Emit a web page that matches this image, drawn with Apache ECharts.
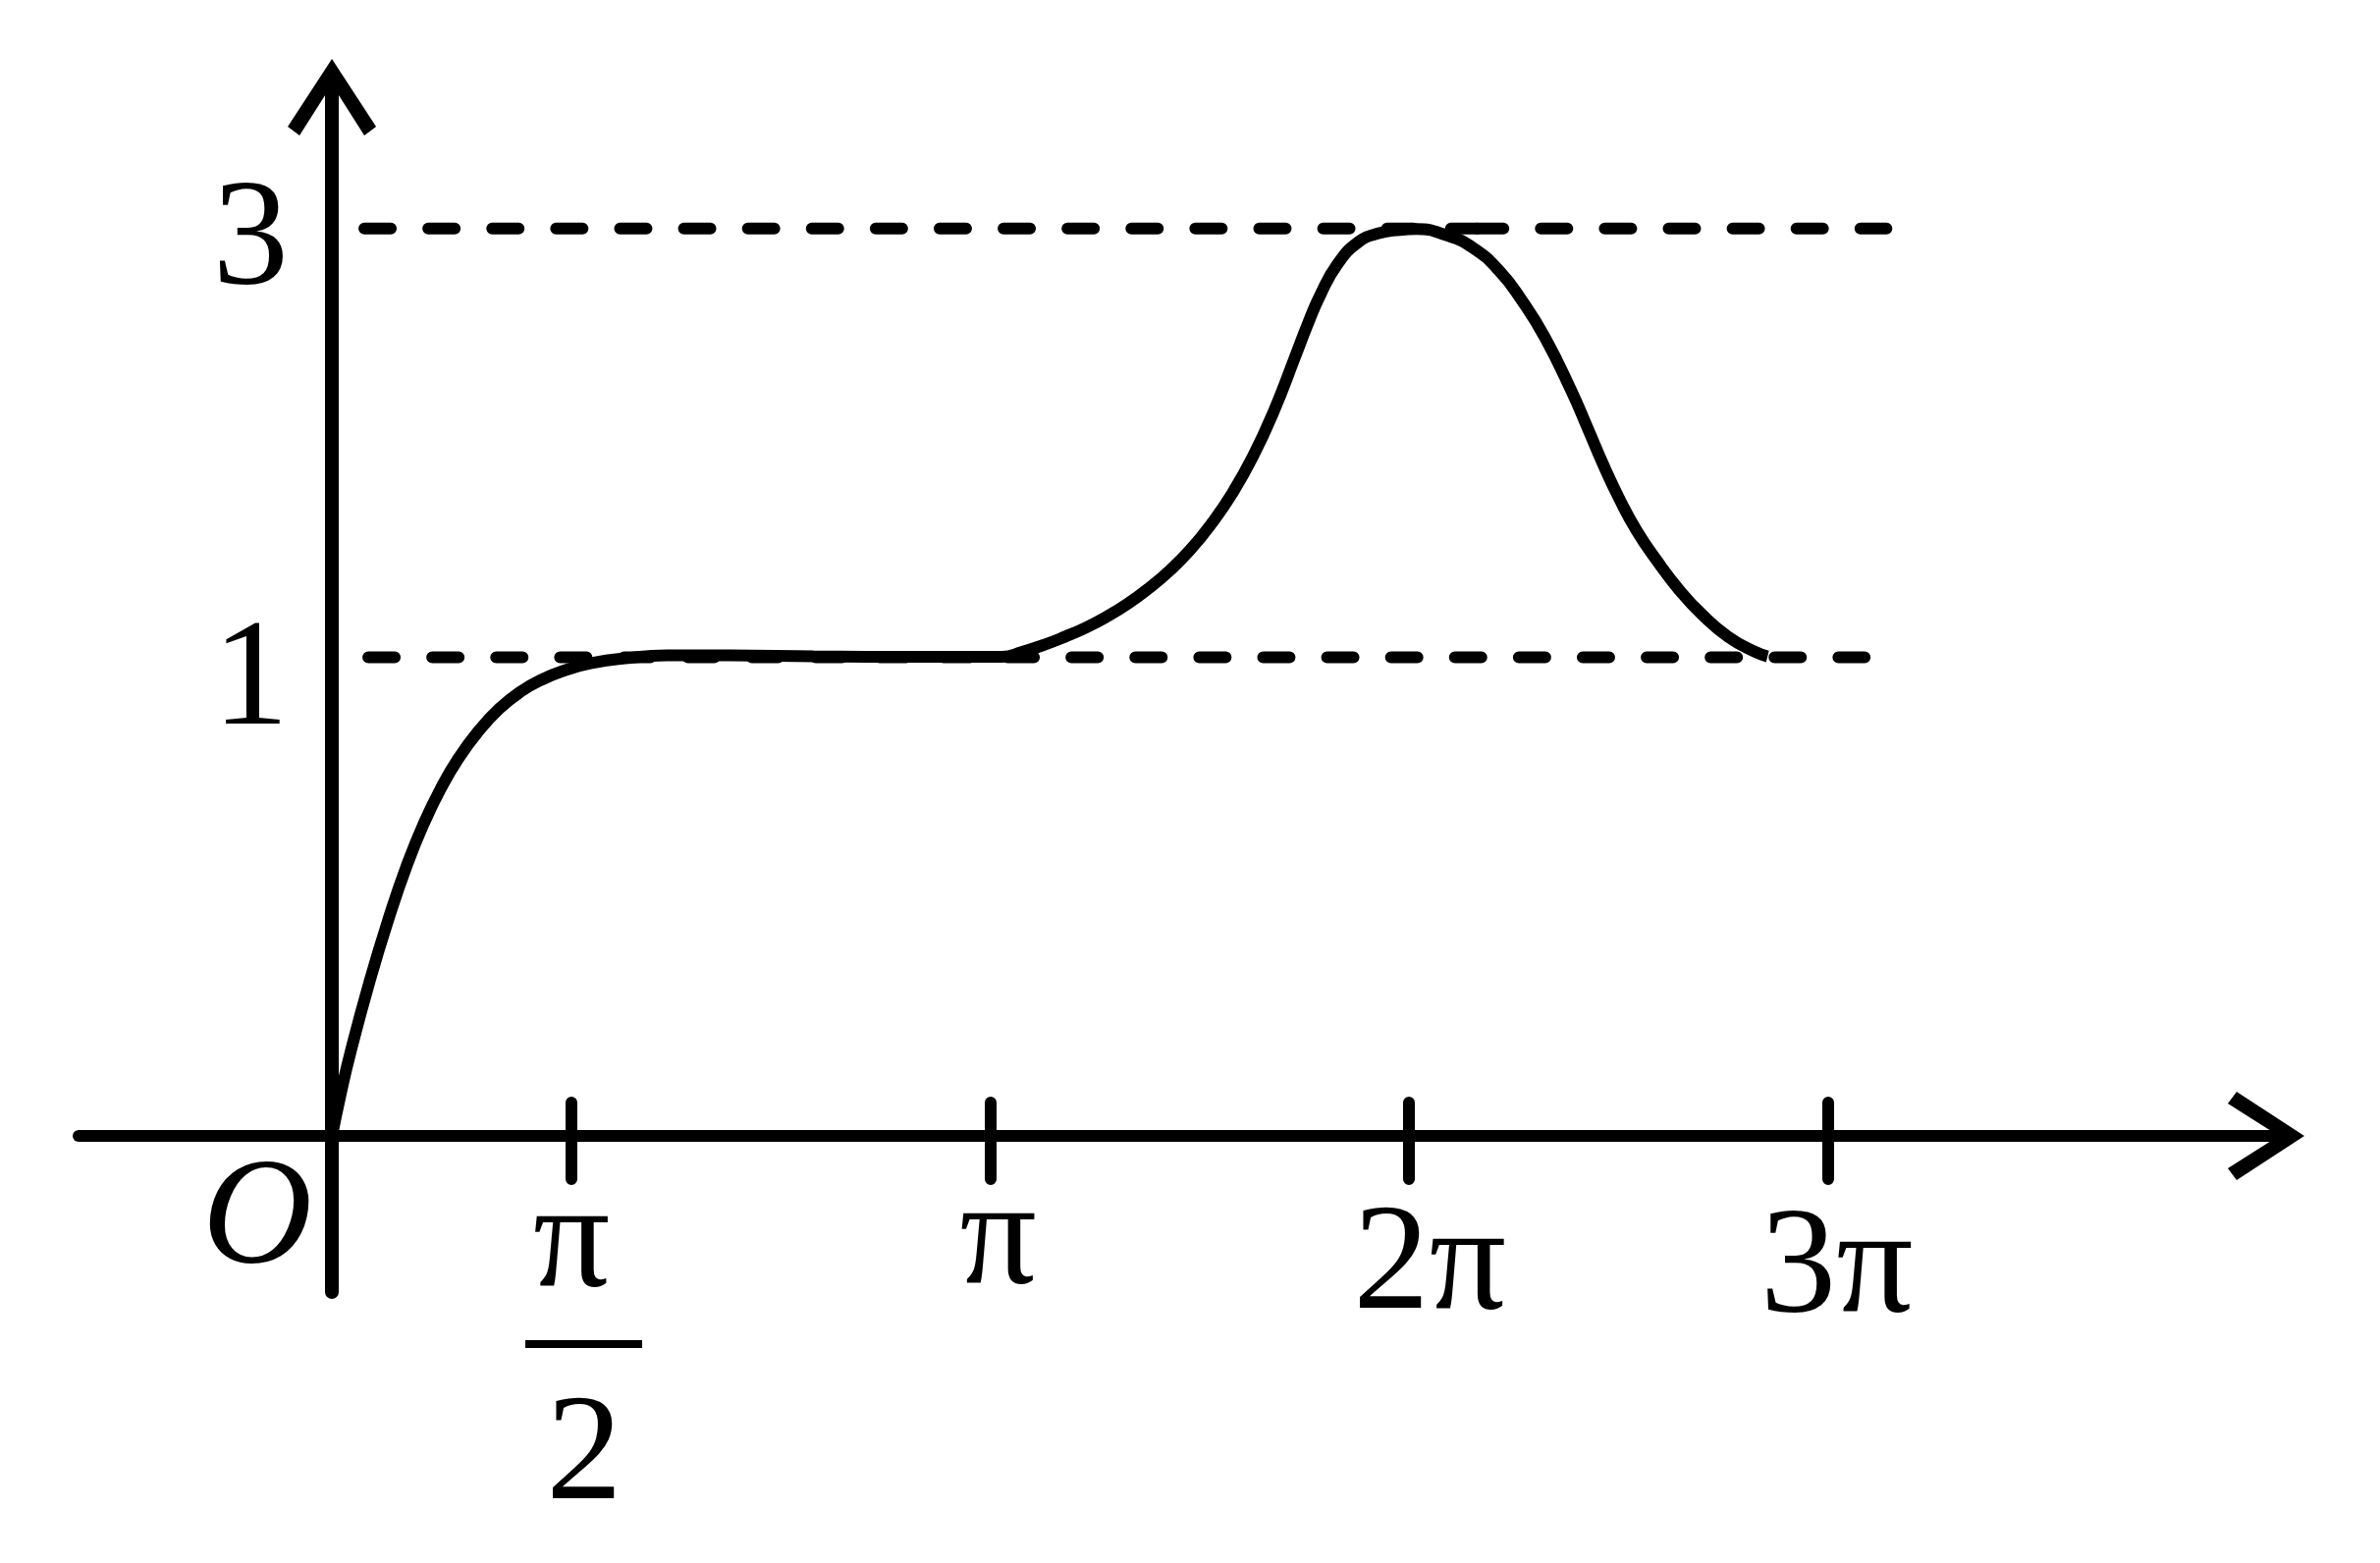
<!DOCTYPE html>
<html>
<head>
<meta charset="utf-8">
<script src="https://cdn.jsdelivr.net/npm/echarts@6/dist/echarts.min.js"></script>
<style>
html,body{margin:0;padding:0;background:#fff;}
#chart{width:2424px;height:1592px;}
</style>
</head>
<body>
<div id="chart"></div>
<script>
// Schematic axes: x in units of one π-tick spacing, y in units of the "1" level.
const xTickPos = [0.572, 1.572, 2.572, 3.572];
const xTickText = ['π/2', 'π', '2π', '3π'];
const originPos = 0;
const originText = 'O';
const yTickPos = [1, 1.896];
const yTickText = ['1', '3'];

// Curve (schematic units)
const curveX = [0, 0.02, 0.045, 0.09, 0.135, 0.18, 0.22, 0.26, 0.30, 0.35, 0.40, 0.45, 0.50, 0.56, 0.62, 0.70, 0.80, 0.95, 1.15, 1.40, 1.60, 1.65, 1.70, 1.75, 1.80, 1.85, 1.90, 1.95, 2.00, 2.05, 2.10, 2.15, 2.20, 2.25, 2.30, 2.33, 2.36, 2.40, 2.45, 2.50, 2.55, 2.59, 2.661, 2.724, 2.788, 2.842, 2.896, 2.959, 2.999, 3.036, 3.076, 3.116, 3.163, 3.217, 3.271, 3.334, 3.397, 3.428];
const curveY = [0, 0.084, 0.177, 0.323, 0.453, 0.568, 0.654, 0.726, 0.786, 0.846, 0.893, 0.928, 0.953, 0.974, 0.988, 0.998, 1.004, 1.004, 1.002, 1.001, 1.001, 1.012, 1.026, 1.043, 1.062, 1.085, 1.112, 1.144, 1.181, 1.225, 1.279, 1.343, 1.421, 1.516, 1.628, 1.696, 1.757, 1.820, 1.867, 1.886, 1.893, 1.895, 1.882, 1.856, 1.807, 1.745, 1.669, 1.558, 1.478, 1.402, 1.328, 1.264, 1.203, 1.141, 1.090, 1.043, 1.012, 1.002];

// Dashed guide lines: [xStart, xEnd] at level y
const guide3a = [0.0774, 2.7355];
const guide3b = [2.734, 3.712];
const guide1 = [0.0868, 3.660];

const X_MIN = -0.605, X_MAX = 4.649, Y_MIN = -0.326, Y_MAX = 2.197;
const FONT = '"Liberation Serif", "Times New Roman", serif';
const FS = 155;
const chevron = 'path://M45,0 L90,69 L78,78 L45,26 L12,78 L0,69 Z';

function near(a, b) { return Math.abs(a - b) < 1e-6; }

const xLabelPos = [originPos].concat(xTickPos);
function xFormatter(v) {
  if (near(v, originPos)) return '{O|' + originText + '}';
  const i = xTickPos.findIndex(p => near(p, v));
  if (i < 0) return '';
  const t = xTickText[i];
  if (t === 'π/2') return '{fn|π}\n{sb| }{fb| }\n{sd| }{fd|2}';
  if (t === 'π') return '{p1|' + t + '}';
  if (t === '2π') return '{p2|' + t + '}';
  return '{p3|' + t + '}';
}
function yFormatter(v) {
  const i = yTickPos.findIndex(p => near(p, v));
  if (i < 0) return '';
  return (yTickText[i] === '1' ? '{y1|' : '{y3|') + yTickText[i] + '}';
}
const txt = (extra) => Object.assign({fontFamily: FONT, fontSize: FS, color: '#000'}, extra);

const curveData = curveX.map((x, i) => [x, curveY[i]]);
const dashStyle = {color: '#000', width: 12, type: [27, 38.1], cap: 'round'};

const chart = echarts.init(document.getElementById('chart'), null, {renderer: 'canvas'});
chart.setOption({
  backgroundColor: '#fff',
  animation: false,
  grid: {left: 80, right: 103, top: 86, bottom: 276, outerBoundsMode: 'none'},
  xAxis: [
    {
      type: 'value', min: X_MIN, max: X_MAX, position: 'bottom',
      axisLine: {show: true, onZero: true, onZeroAxisIndex: 0, symbol: ['none', chevron], symbolSize: [90, 78], symbolOffset: [0, -13],
        lineStyle: {color: '#000', width: 12, cap: 'round'}},
      axisTick: {show: true, inside: true, length: 34, customValues: xTickPos, lineStyle: {color: '#000', width: 12, cap: 'round'}},
      axisLabel: {show: false},
      splitLine: {show: false}
    },
    {
      type: 'value', min: X_MIN, max: X_MAX, position: 'bottom',
      axisLine: {show: false, onZero: true, onZeroAxisIndex: 0},
      axisTick: {show: true, inside: false, length: 44, customValues: xTickPos, lineStyle: {color: '#000', width: 12, cap: 'round'}},
      axisLabel: {
        show: true, margin: -158.5, customValues: xLabelPos, formatter: xFormatter,
        fontFamily: FONT, fontSize: FS, color: '#000',
        rich: {
          O: txt({fontStyle: 'italic', lineHeight: 174, padding: [0, 152, 0, 0]}),
          p1: txt({lineHeight: 216, padding: [0, 0, 0, 16]}),
          p2: txt({lineHeight: 268, padding: [0, 0, 0, 42]}),
          p3: txt({lineHeight: 274, padding: [0, 0, 0, 18]}),
          fn: txt({lineHeight: 211, padding: [11, 0, 0, 0]}),
          fb: txt({fontSize: 8, width: 119, height: 8, lineHeight: 1, backgroundColor: '#000'}),
          sb: txt({fontSize: 8, width: 25, height: 1, lineHeight: 1}),
          sd: txt({fontSize: 8, width: 26, height: 1, lineHeight: 1}),
          fd: txt({lineHeight: 232})
        }
      },
      splitLine: {show: false}
    }
  ],
  yAxis: {
    type: 'value', min: Y_MIN, max: Y_MAX,
    axisLine: {show: true, onZero: true, symbol: ['none', chevron], symbolSize: [90, 78], symbolOffset: [0, -13],
      lineStyle: {color: '#000', width: 14, cap: 'round'}},
    axisTick: {show: false},
    axisLabel: {
      show: true, margin: -214, customValues: yTickPos, formatter: yFormatter,
      fontFamily: FONT, fontSize: FS, color: '#000',
      rich: {
        y1: txt({lineHeight: 155, padding: [54, 0, 0, 0]}),
        y3: txt({lineHeight: 155, padding: [29, 0, 0, 0]})
      }
    },
    splitLine: {show: false}
  },
  series: [
    {type: 'line', data: [[guide3a[0], yTickPos[1]], [guide3a[1], yTickPos[1]]], showSymbol: false, symbol: 'none', lineStyle: dashStyle, silent: true},
    {type: 'line', data: [[guide3b[0], yTickPos[1]], [guide3b[1], yTickPos[1]]], showSymbol: false, symbol: 'none', lineStyle: dashStyle, silent: true},
    {type: 'line', data: [[guide1[0], yTickPos[0]], [guide1[1], yTickPos[0]]], showSymbol: false, symbol: 'none', lineStyle: dashStyle, silent: true},
    {type: 'line', data: curveData, showSymbol: false, symbol: 'none', smooth: 0.5, lineStyle: {color: '#000', width: 12}, z: 5}
  ]
});
</script>
</body>
</html>
